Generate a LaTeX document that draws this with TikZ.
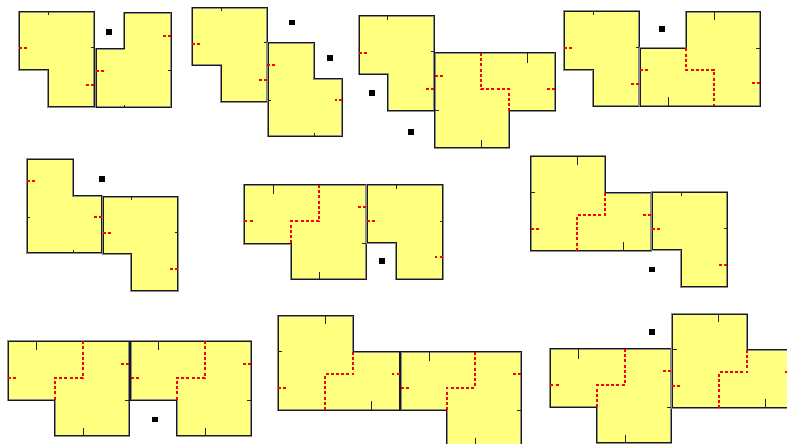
\documentclass[tikz,border=0pt]{standalone}
\definecolor{roomfill}{HTML}{FFFF80}
\tikzset{
  room/.style={draw=black!45,fill=roomfill,line width=2bp,line join=miter,postaction={draw=black!90,line width=1bp}},
  tickmark/.style={draw=black!85,line width=1bp},
  reddash/.style={draw=red,line width=2bp,dash pattern=on 3bp off 2.2bp},
  spot/.style={fill=black,draw=none}
}
\newcommand{\spotat}[2]{\fill[spot] (#1-2.8,#2-2.8) rectangle (#1+2.8,#2+2.8);}
\begin{document}
\begin{tikzpicture}[x=1bp,y=-1bp]
\useasboundingbox (0,0) rectangle (787,444);
\clip (0,0) rectangle (787,444);
% ---- panel 1
\path[room] (19,12)--(94,12)--(94,107)--(48,107)--(48,70)--(19,70)--cycle;
\path[tickmark] (48,12)--(48,15) (94,48)--(91,48);
\path[reddash] (19,48)--(27,48) (94,85)--(86,85);
\path[room] (96,49)--(124,49)--(124,13)--(171,13)--(171,107.5)--(96,107.5)--cycle;
\path[tickmark] (124,107.5)--(124,105) (171,71)--(168,71);
\path[reddash] (96,71.5)--(104,71.5) (171,36)--(163,36);
\spotat{109}{32}
% ---- panel 2
\path[room] (192,8)--(267,8)--(267,102)--(221,102)--(221,65.5)--(192,65.5)--cycle;
\path[tickmark] (221,8)--(221,11) (267,43)--(264,43);
\path[reddash] (192,44)--(200,44) (267,80)--(259,80);
\path[room] (268,43)--(314,43)--(314,79)--(342,79)--(342,136.5)--(268,136.5)--cycle;
\path[tickmark] (268,100.5)--(271,100.5) (314,136.5)--(314,133.5);
\path[reddash] (267,65)--(275.5,65) (342,100.5)--(335,100.5);
\spotat{292}{22.5}
\spotat{330}{58}
% ---- panel 3
\path[room] (359,16)--(434,16)--(434,111)--(387.7,111)--(387.7,74.5)--(359,74.5)--cycle;
\path[tickmark] (387.7,16)--(387.7,20) (434,52)--(431,52);
\path[reddash] (359,52.7)--(367,52.7) (434,89)--(426,89);
\path[room] (434.5,53)--(555,53)--(555,111)--(509,111)--(509,148)--(434.5,148)--cycle;
\path[tickmark] (527,53)--(527,63) (481,148)--(481,140) (434.5,111)--(439,111);
\path[reddash] (434.5,76)--(443,76) (555,89.5)--(547,89.5);
\path[reddash] (481,53)--(481,89.5)--(509,89.5)--(509,111);
\spotat{372}{93}
\spotat{411}{132}
% ---- panel 4
\path[room] (564,11.5)--(639,11.5)--(639,106.5)--(593,106.5)--(593,70)--(564,70)--cycle;
\path[tickmark] (593,11.5)--(593,15) (639,48)--(636,48);
\path[reddash] (564,48)--(572,48) (639,84)--(631,84);
\path[room] (640,48.5)--(686,48.5)--(686,12)--(760,12)--(760,106.5)--(640,106.5)--cycle;
\path[tickmark] (714,12)--(714,20) (760,48.5)--(756,48.5) (668,106.5)--(668,97);
\path[reddash] (640,70)--(648,70) (760,83.5)--(752,83.5);
\path[reddash] (686,48.5)--(686,70)--(714,70)--(714,106.5);
\spotat{662}{29}
% ---- panel 5
\path[room] (27,159.5)--(73.3,159.5)--(73.3,195.7)--(101.7,195.7)--(101.7,252.7)--(27,252.7)--cycle;
\path[tickmark] (27,217.5)--(30,217.5) (73.3,252.7)--(73.3,250);
\path[reddash] (27,181.5)--(35,181.5) (101.7,217)--(94,217);
\path[room] (103,196.7)--(177.7,196.7)--(177.7,291)--(131.3,291)--(131.3,254)--(103,254)--cycle;
\path[tickmark] (131.3,196.7)--(131.3,200) (177.7,232.5)--(175,232.5);
\path[reddash] (103,232.7)--(111,232.7) (177.7,268.7)--(170,268.7);
\spotat{102}{179}
% ---- panel 6
\path[room] (244.4,185)--(366,185)--(366,279.4)--(291,279.4)--(291,243.7)--(244.4,243.7)--cycle;
\path[tickmark] (273,185)--(273,194.5) (319,279.4)--(319,272) (366,243.7)--(362,243.7);
\path[reddash] (244.4,221.5)--(253,221.5) (366,207.5)--(358,207.5);
\path[reddash] (319,185)--(319,221.5)--(291,221.5)--(291,243.7);
\path[room] (367,185)--(442.5,185)--(442.5,279.4)--(396,279.4)--(396,243)--(367,243)--cycle;
\path[tickmark] (396,185)--(396,189) (442.5,221.5)--(439.5,221.5);
\path[reddash] (367,221.5)--(375,221.5) (442.5,257.5)--(435,257.5);
\spotat{381.7}{261}
% ---- panel 7
\path[room] (530.5,156.5)--(605,156.5)--(605,192.7)--(651.3,192.7)--(651.3,250.7)--(530.5,250.7)--cycle;
\path[tickmark] (577,156.5)--(577,165) (530.5,192.7)--(535,192.7) (623,250.7)--(623,242);
\path[reddash] (530.5,229)--(539,229) (651.3,214.7)--(643,214.7);
\path[reddash] (605,192.7)--(605,215)--(577,215)--(577,250.7);
\path[room] (652,192.5)--(727.3,192.5)--(727.3,287)--(681,287)--(681,250)--(652,250)--cycle;
\path[tickmark] (681,192.5)--(681,196) (727.3,229)--(724,229);
\path[reddash] (652,229)--(660,229) (727.3,265)--(719,265);
\spotat{652}{269.5}
% ---- panel 8
\path[room] (8,341.3)--(129.3,341.3)--(129.3,435.7)--(54.7,435.7)--(54.7,400)--(8,400)--cycle;
\path[tickmark] (36.5,341.3)--(36.5,350.5) (83,435.7)--(83,428) (129.3,400)--(125,400);
\path[reddash] (8,378)--(16,378) (129.3,364)--(121,364);
\path[reddash] (82.7,341.3)--(82.7,378)--(54.7,378)--(54.7,400);
\path[room] (130.8,341.3)--(251.3,341.3)--(251.3,435.7)--(176.7,435.7)--(176.7,400)--(130.8,400)--cycle;
\path[tickmark] (158.7,341.3)--(158.7,350.5) (205,435.7)--(205,428) (251.3,400)--(247,400);
\path[reddash] (130.8,378)--(139,378) (251.3,364)--(243,364);
\path[reddash] (204.7,341.3)--(204.7,378)--(176.7,378)--(176.7,400);
\spotat{154.7}{419.5}
% ---- panel 9
\path[room] (278,316)--(353,316)--(353,351.7)--(399.5,351.7)--(399.5,410)--(278,410)--cycle;
\path[tickmark] (325,316)--(325,324.5) (278,352)--(282,352) (371,410)--(371,400.5);
\path[reddash] (278,388)--(286.5,388) (399.5,373.7)--(391.5,373.7);
\path[reddash] (353,351.7)--(353,374)--(325,374)--(325,410);
\path[room] (400.7,352)--(521.3,352)--(521.3,446.5)--(446.7,446.5)--(446.7,410.3)--(400.7,410.3)--cycle;
\path[tickmark] (429,352)--(429,361) (521.3,410.3)--(517,410.3) (475,446.5)--(475,438);
\path[reddash] (400.7,388)--(409,388) (521.3,374)--(513,374);
\path[reddash] (474.7,352)--(474.7,388)--(446.7,388)--(446.7,410.3);
% ---- panel 10
\path[room] (550.3,349)--(671.3,349)--(671.3,442.7)--(596.7,442.7)--(596.7,407)--(550.3,407)--cycle;
\path[tickmark] (578.7,349)--(578.7,358.5) (625,442.7)--(625,435) (671.3,407)--(667,407);
\path[reddash] (550.3,385.3)--(558.5,385.3) (671.3,371.3)--(663,371.3);
\path[reddash] (624.7,349)--(624.7,385.3)--(596.7,385.3)--(596.7,407);
\path[room] (672,314.3)--(747,314.3)--(747,349.7)--(793,349.7)--(793,407.7)--(672,407.7)--cycle;
\path[tickmark] (718.7,314.3)--(718.7,322) (672,349.7)--(677,349.7) (765,407.7)--(765,399);
\path[reddash] (672,386)--(680.5,386) (793,372)--(785,372);
\path[reddash] (747,349.7)--(747,372)--(719,372)--(719,407.7);
\spotat{651.7}{332}
\end{tikzpicture}
\end{document}
